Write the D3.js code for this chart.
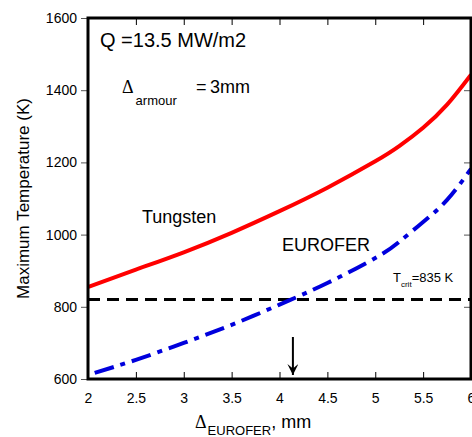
<!DOCTYPE html>
<html>
<head>
<meta charset="utf-8">
<script src="https://cdn.jsdelivr.net/npm/d3@7"></script>
<style>
  body { margin: 0; background: #fff; }
  text { font-family: Arial, "Liberation Sans", sans-serif; fill: #000; }
</style>
</head>
<body>
<div id="chart"></div>
<script>
// Data
const tungstenX = [2, 2.5, 3, 3.5, 4, 4.5, 5, 5.25, 5.5, 5.75, 6];
const tungsten = [855, 903, 951, 1005, 1065, 1130, 1203, 1245, 1296, 1360, 1443];
const euroferX = [2.07, 2.5, 3, 3.5, 4, 4.5, 5, 5.25, 5.5, 5.75, 6];
const eurofer = [617, 653, 700, 750, 806, 866, 935, 980, 1035, 1096, 1182];
const tCrit = 820;
const arrowX = 4.14;
const xTicks = [2, 2.5, 3, 3.5, 4, 4.5, 5, 5.5, 6];
const yTicks = [600, 800, 1000, 1200, 1400, 1600];

const W = 472, H = 437;
const margin = {top: 18, right: 1, bottom: 58, left: 88};

const svg = d3.select("#chart").append("svg")
    .attr("width", W)
    .attr("height", H);

const x = d3.scaleLinear().domain([2, 6]).range([margin.left, W - margin.right]);
const y = d3.scaleLinear().domain([600, 1600]).range([H - margin.bottom, margin.top]);

// Axes - ticks inside on bottom/top/right, outside on left
svg.append("g")
    .attr("transform", "translate(0," + y(600) + ")")
    .call(d3.axisBottom(x).tickValues(xTicks).tickSizeInner(-7).tickSizeOuter(0).tickPadding(14)
        .tickFormat(d3.format("")))
    .call(g => g.select(".domain").remove())
    .call(g => g.selectAll("text").attr("font-size", 14).attr("font-family", "Arial"));

svg.append("g")
    .attr("transform", "translate(0," + y(1600) + ")")
    .call(d3.axisTop(x).tickValues(xTicks).tickSizeInner(-7).tickSizeOuter(0).tickFormat(""))
    .call(g => g.select(".domain").remove());

svg.append("g")
    .attr("transform", "translate(" + x(2) + ",0)")
    .call(d3.axisLeft(y).tickValues(yTicks).tickSizeInner(7).tickSizeOuter(0).tickPadding(4)
        .tickFormat(d3.format("d")))
    .call(g => g.select(".domain").remove())
    .call(g => g.selectAll(".tick line").attr("stroke", "#555"))
    .call(g => g.selectAll("text").attr("font-size", 14).attr("font-family", "Arial"));

svg.append("g")
    .attr("transform", "translate(" + x(6) + ",0)")
    .call(d3.axisRight(y).tickValues(yTicks).tickSizeInner(-7).tickSizeOuter(0).tickFormat(""))
    .call(g => g.select(".domain").remove())
    .call(g => g.selectAll(".tick line").attr("stroke", "#555"));

const plot = svg.append("g");

// critical temperature line
plot.append("line")
    .attr("x1", x(2)).attr("x2", x(6))
    .attr("y1", y(tCrit)).attr("y2", y(tCrit))
    .attr("stroke", "#000")
    .attr("stroke-width", 3)
    .attr("stroke-dasharray", "12,7");

const line = d3.line().curve(d3.curveNatural);

plot.append("path")
    .attr("d", line(tungstenX.map((d, i) => [x(d), y(tungsten[i])])))
    .attr("fill", "none")
    .attr("stroke", "#ff0000")
    .attr("stroke-width", 4);

plot.append("path")
    .attr("d", line(euroferX.map((d, i) => [x(d), y(eurofer[i])])))
    .attr("fill", "none")
    .attr("stroke", "#0000dd")
    .attr("stroke-width", 4)
    .attr("stroke-dasharray", "20,7,5,7");

// arrow pointing to the crossing thickness
svg.append("defs").append("marker")
    .attr("id", "arrowhead")
    .attr("viewBox", "0 -5 10 10")
    .attr("refX", 10)
    .attr("refY", 0)
    .attr("orient", "auto")
    .attr("markerUnits", "userSpaceOnUse")
    .attr("markerWidth", 14)
    .attr("markerHeight", 11)
    .append("path")
    .attr("d", "M0,-5 L10,0 L0,5 L4,0 Z")
    .attr("fill", "#000");

plot.append("line")
    .attr("x1", x(arrowX)).attr("x2", x(arrowX))
    .attr("y1", 337).attr("y2", 375)
    .attr("stroke", "#000")
    .attr("stroke-width", 2)
    .attr("marker-end", "url(#arrowhead)");

// frame
svg.append("rect")
    .attr("x", x(2)).attr("y", y(1600))
    .attr("width", x(6) - x(2)).attr("height", y(600) - y(1600))
    .attr("fill", "none")
    .attr("stroke", "#000")
    .attr("stroke-width", 3);

// annotations
svg.append("text").attr("x", 100).attr("y", 47).attr("font-size", 20).text("Q =13.5 MW/m2");

const arm = svg.append("text").attr("x", 122).attr("y", 93);
arm.append("tspan").attr("font-family", "Times New Roman, Liberation Serif, serif").attr("font-size", 18).text("Δ");
arm.append("tspan").attr("font-size", 13).attr("dy", 12).attr("dx", 2).text("armour");
arm.append("tspan").attr("font-size", 18).attr("dy", -12).attr("x", 196).text("=");
arm.append("tspan").attr("font-size", 18).attr("x", 210).text("3mm");

svg.append("text").attr("x", 142).attr("y", 223).attr("font-size", 18).text("Tungsten");
svg.append("text").attr("x", 282).attr("y", 251).attr("font-size", 18).text("EUROFER");

const tc = svg.append("text").attr("x", 393).attr("y", 282).attr("font-size", 13);
tc.append("tspan").text("T");
tc.append("tspan").attr("font-size", 8).attr("dy", 5).text("crit");
tc.append("tspan").attr("dy", -5).text("=835 K");

svg.append("text")
    .attr("transform", "translate(29," + (y(600) + y(1600)) / 2 + ") rotate(-90)")
    .attr("text-anchor", "middle")
    .attr("font-size", 17)
    .text("Maximum Temperature (K)");

const xl = svg.append("text").attr("x", 195).attr("y", 428);
xl.append("tspan").attr("font-family", "Times New Roman, Liberation Serif, serif").attr("font-size", 18).text("Δ");
xl.append("tspan").attr("font-size", 13).attr("dy", 7).attr("dx", 1).text("EUROFER");
xl.append("tspan").attr("font-size", 18).attr("dy", -7).text(", mm");
</script>
</body>
</html>
